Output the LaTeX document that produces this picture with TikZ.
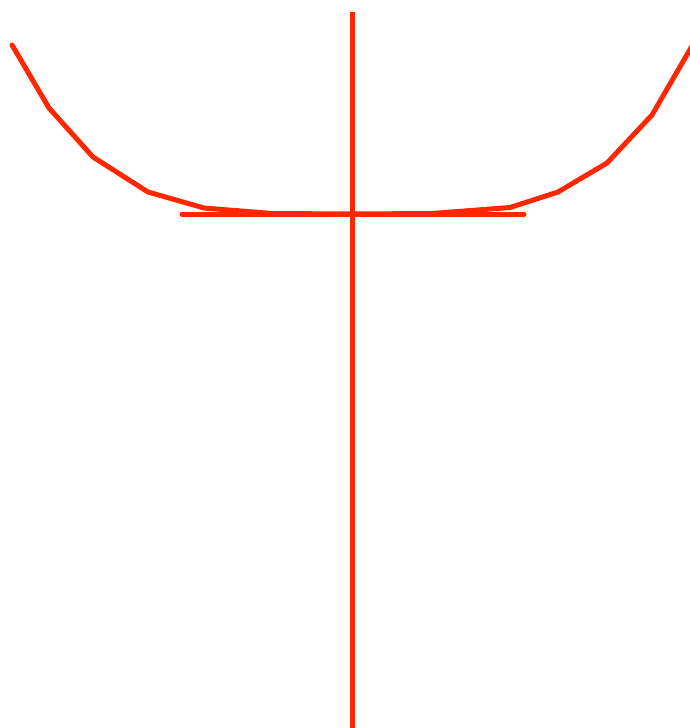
\documentclass[tikz,border=0pt]{standalone}
\usepackage{tikz}
\usepackage{xcolor}
\definecolor{curvered}{HTML}{FF2600}

\begin{document}
\begin{tikzpicture}[x=1pt,y=-1pt,
  redline/.style={draw=curvered,line width=5pt,line cap=round,line join=round}
]
\useasboundingbox (0,0) rectangle (690,728);
\coordinate (top) at (352.5,12);
\coordinate (bottom) at (352.5,740);
\coordinate (hleft) at (182,214);
\coordinate (hright) at (524,214);

\draw[redline] (12,45) -- (49,108) -- (93,157) -- (148,192) -- (204,208) -- (272,213.5)
  -- (352,214) -- (432,213.5) -- (510,207.5) -- (558,192) -- (607,163) -- (652,115) -- (692,46);
\draw[redline] (hleft) -- (hright);
\draw[redline,line cap=butt] (top) -- (bottom);
\end{tikzpicture}
\end{document}
